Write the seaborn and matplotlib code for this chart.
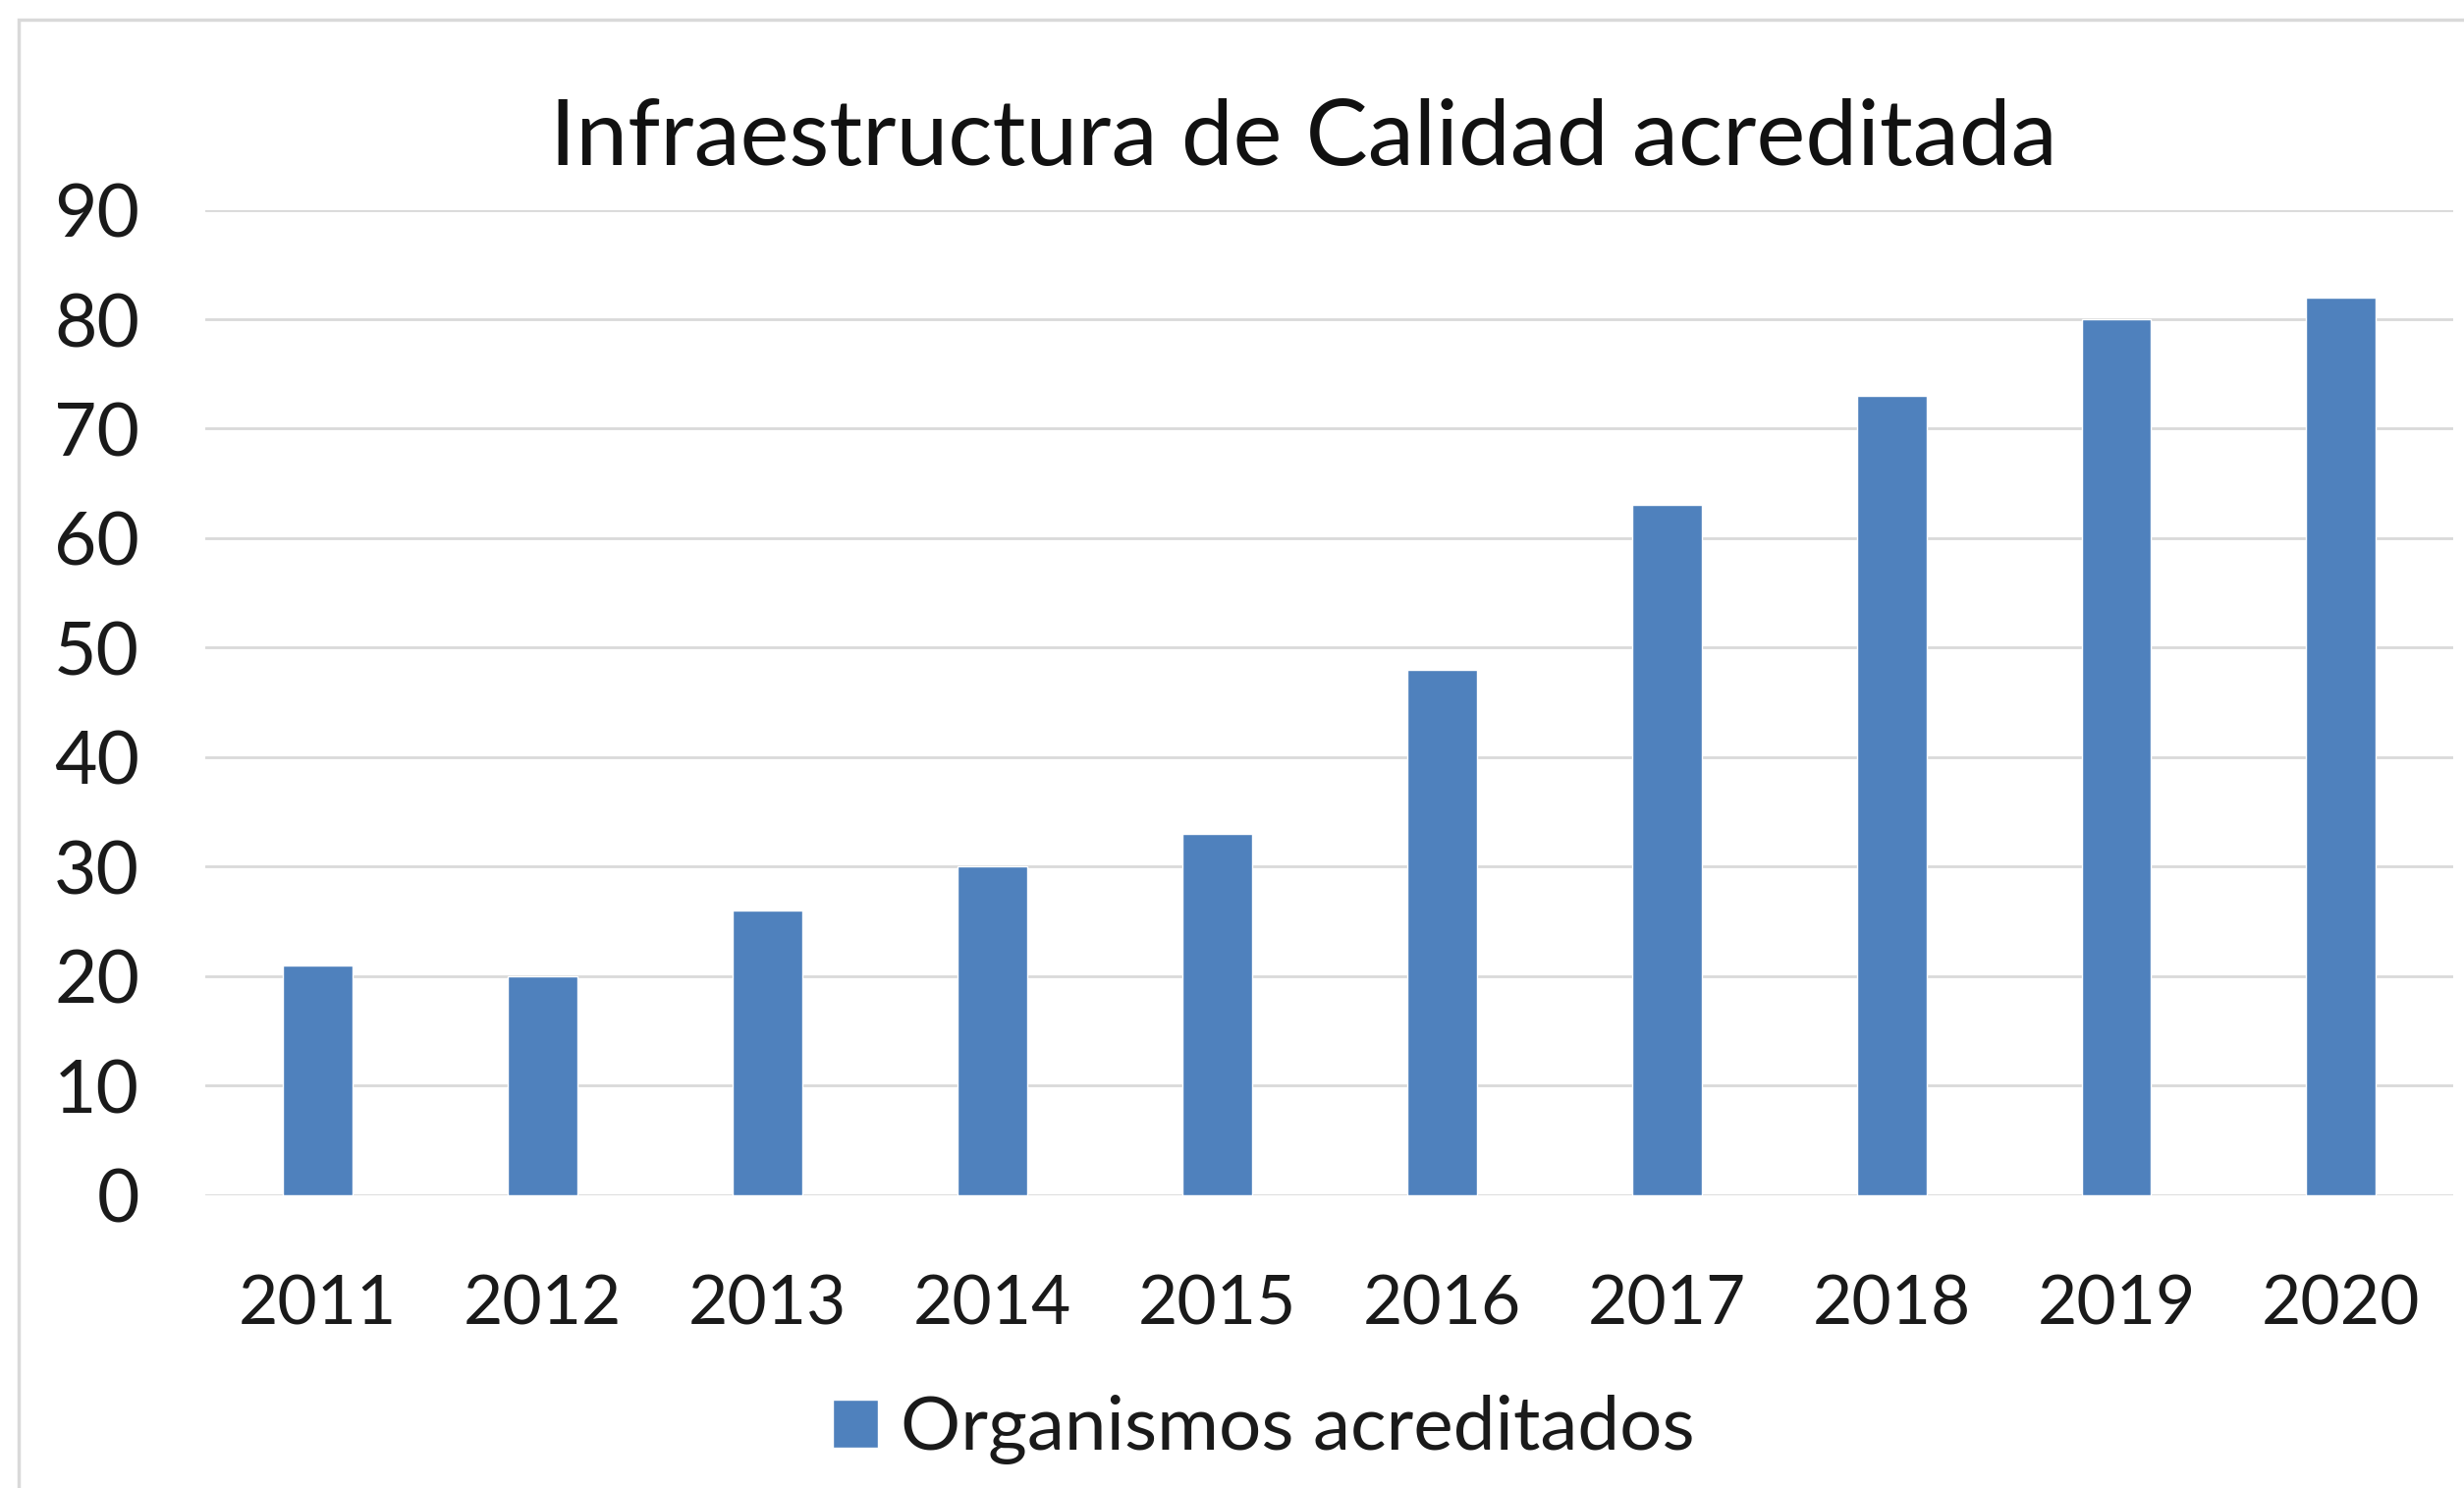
import matplotlib
matplotlib.use("Agg")
import matplotlib.pyplot as plt
import seaborn as sns
import pandas as pd

# datos
anios = ["2011", "2012", "2013", "2014", "2015", "2016", "2017", "2018", "2019", "2020"]
organismos = [21, 20, 26, 30, 33, 48, 63, 73, 80, 82]
serie = "Organismos acreditados"
titulo = "Infraestructura de Calidad acreditada"
yticks = [0, 10, 20, 30, 40, 50, 60, 70, 80, 90]

df = pd.DataFrame({"anio": anios, "valor": organismos})

sns.set_style("white")
plt.rcParams['font.family'] = ['Lato', 'DejaVu Sans']

fig = plt.figure(figsize=(25.09, 15.15), dpi=100)
ax = fig.add_axes([0.0832, 0.197, 0.9126, 0.662])

sns.barplot(data=df, x="anio", y="valor", color="#4F81BD", width=0.31,
            saturation=1, label=serie, ax=ax, zorder=3)

ax.set_ylim(0, 90)
ax.set_xlim(-0.5, 9.5)
ax.set_yticks(yticks)
ax.yaxis.grid(True, color="#D9D9D9", linewidth=2, zorder=0)
ax.set_axisbelow(True)
for s in ax.spines.values():
    s.set_visible(False)
ax.set_xlabel("")
ax.set_ylabel("")
ax.tick_params(axis='y', length=0, pad=48, labelsize=54, labelcolor="#1a1a1a")
ax.tick_params(axis='x', length=0, pad=58, labelsize=50, labelcolor="#1a1a1a")

fig.text(0.529, 0.906, titulo, ha="center", va="center", fontsize=68, color="#111111")

ax.legend(loc="center", bbox_to_anchor=(0.513, 0.039), bbox_transform=fig.transFigure,
          frameon=False, fontsize=55, handlelength=0.6, handleheight=0.6,
          handletextpad=0.3, labelcolor="#1a1a1a")

# marco gris del grafico
marco = plt.Rectangle((19 / 2509, -0.05), 1.1, 1 - 20 / 1515 + 0.05, transform=fig.transFigure,
                      fill=False, edgecolor="#D9D9D9", linewidth=2.5)
fig.patches.append(marco)

fig.savefig("out.png", dpi=100)
